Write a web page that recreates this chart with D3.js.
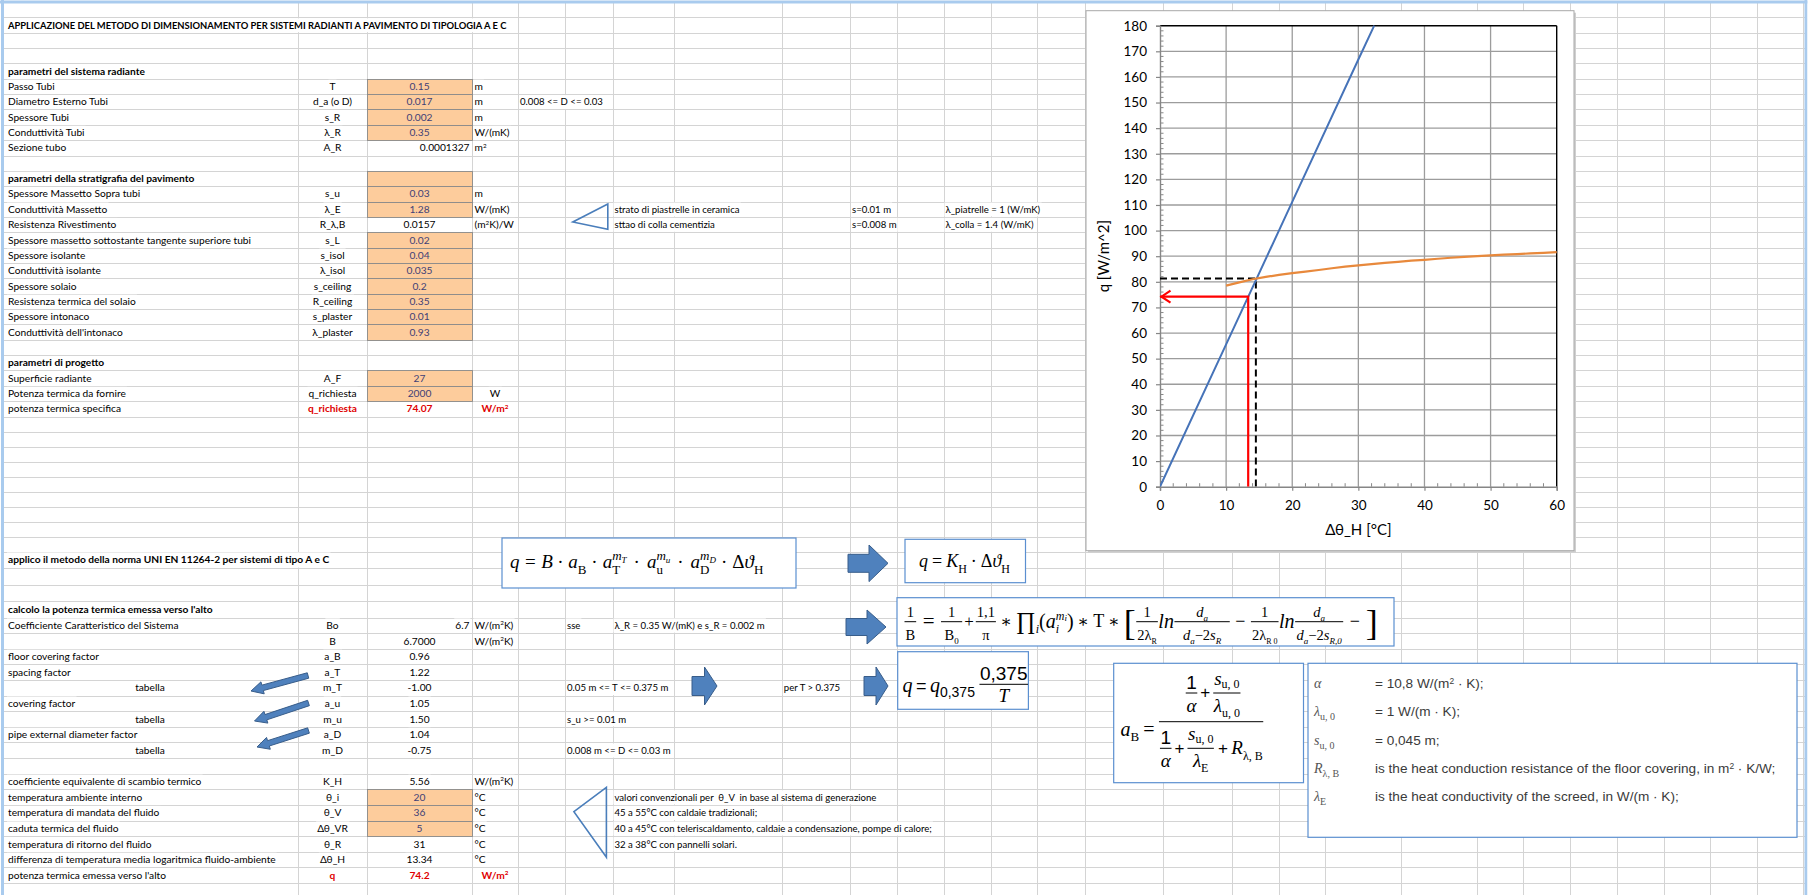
<!DOCTYPE html>
<html><head><meta charset="utf-8">
<script src="https://cdn.jsdelivr.net/npm/d3@7/dist/d3.min.js"></script>
<style>html,body{margin:0;padding:0;background:#fff;overflow:hidden}</style>
</head><body>
<svg id="sheet" width="1814" height="895"></svg>
<script>
// ================= DATA =================
const xTickLabels = [0, 10, 20, 30, 40, 50, 60];
const yTickLabels = [0, 10, 20, 30, 40, 50, 60, 70, 80, 90, 100, 110, 120, 130, 140, 150, 160, 170, 180];
const xTitle = "Δθ_H [°C]";
const yTitle = "q [W/m^2]";
// blue line: q = K_H * Δθ_H
const blueDeltaTheta = [0, 10, 20, 30, 32.4];
const blueQ = [0, 55.6, 111.2, 166.8, 180];
// orange curve
const orangeDeltaTheta = [10, 12, 14, 16, 18, 20, 22, 24, 26, 28, 30, 32, 34, 36, 38, 40, 42, 44, 46, 48, 50, 52, 54, 56, 58, 60];
const orangeQ = [78.5, 79.8, 81.0, 81.9, 82.7, 83.4, 84.0, 84.6, 85.3, 85.9, 86.4, 86.9, 87.4, 87.8, 88.3, 88.6, 89.0, 89.4, 89.7, 90.0, 90.3, 90.6, 90.8, 91.1, 91.3, 91.6];
const operatingDeltaTheta = [0, 14.5, 14.5];
const operatingQ = [81.3, 81.3, 0];
const requiredDeltaTheta = [13.34, 13.34, 0];
const requiredQ = [0, 74.2, 74.2];

// spreadsheet content: [row, text]
const sheetHeadings = [
  [1, "APPLICAZIONE DEL METODO DI DIMENSIONAMENTO PER SISTEMI RADIANTI A PAVIMENTO DI TIPOLOGIA A E C"],
  [4, "parametri del sistema radiante"],
  [11, "parametri della stratigrafia del pavimento"],
  [23, "parametri di progetto"],
  [36, "applico il metodo della norma UNI EN 11264-2 per sistemi di tipo A e C"],
  [39, "calcolo la potenza termica emessa verso l'alto"]
];
// [row, label, symbol, value, unit, kind]  kind: in=input cell, c=centred, r=right, red=result
const sheetRows = [
  [5, "Passo Tubi", "T", "0.15", "m", "in"],
  [6, "Diametro Esterno Tubi", "d_a (o D)", "0.017", "m", "in"],
  [7, "Spessore Tubi", "s_R", "0.002", "m", "in"],
  [8, "Conduttività Tubi", "λ_R", "0.35", "W/(mK)", "in"],
  [9, "Sezione tubo", "A_R", "0.0001327", "m^2", "r"],
  [11, "", "", "", "", "in"],
  [12, "Spessore Massetto Sopra tubi", "s_u", "0.03", "m", "in"],
  [13, "Conduttività Massetto", "λ_E", "1.28", "W/(mK)", "in"],
  [14, "Resistenza Rivestimento", "R_λ,B", "0.0157", "(m^2K)/W", "c"],
  [15, "Spessore massetto sottostante tangente superiore tubi", "s_L", "0.02", "", "in"],
  [16, "Spessore isolante", "s_isol", "0.04", "", "in"],
  [17, "Conduttività isolante", "λ_isol", "0.035", "", "in"],
  [18, "Spessore solaio", "s_ceiling", "0.2", "", "in"],
  [19, "Resistenza termica del solaio", "R_ceiling", "0.35", "", "in"],
  [20, "Spessore intonaco", "s_plaster", "0.01", "", "in"],
  [21, "Conduttività dell'intonaco", "λ_plaster", "0.93", "", "in"],
  [24, "Superficie radiante", "A_F", "27", "", "in"],
  [25, "Potenza termica da fornire", "q_richiesta", "2000", "W", "in"],
  [26, "potenza termica specifica", "q_richiesta", "74.07", "W/m^2", "red"],
  [40, "Coefficiente Caratteristico del Sistema", "Bo", "6.7", "W/(m^2K)", "r"],
  [41, "", "B", "6.7000", "W/(m^2K)", "c"],
  [42, "floor covering factor", "a_B", "0.96", "", "c"],
  [43, "spacing factor", "a_T", "1.22", "", "c"],
  [44, "tabella", "m_T", "-1.00", "", "c"],
  [45, "covering factor", "a_u", "1.05", "", "c"],
  [46, "tabella", "m_u", "1.50", "", "c"],
  [47, "pipe external diameter factor", "a_D", "1.04", "", "c"],
  [48, "tabella", "m_D", "-0.75", "", "c"],
  [50, "coefficiente equivalente di scambio termico", "K_H", "5.56", "W/(m^2K)", "c"],
  [51, "temperatura ambiente interno", "θ_i", "20", "°C", "in"],
  [52, "temperatura di mandata del fluido", "θ_V", "36", "°C", "in"],
  [53, "caduta termica del fluido", "Δθ_VR", "5", "°C", "in"],
  [54, "temperatura di ritorno del fluido", "θ_R", "31", "°C", "c"],
  [55, "differenza di temperatura media logaritmica fluido-ambiente", "Δθ_H", "13.34", "°C", "c"],
  [56, "potenza termica emessa verso l'alto", "q", "74.2", "W/m^2", "red"]
];
const centredUnitRows = [25, 26, 56];
// [row, column index, text]
const sheetNotes = [
  [6, 4, "0.008 <= D <= 0.03"],
  [13, 6, "strato di piastrelle in ceramica"], [13, 9, "s=0.01 m"], [13, 11, "λ_piatrelle = 1 (W/mK)"],
  [14, 6, "sttao di colla cementizia"], [14, 9, "s=0.008 m"], [14, 11, "λ_colla = 1.4 (W/mK)"],
  [40, 5, "sse"], [40, 6, "λ_R = 0.35 W/(mK) e s_R = 0.002 m"],
  [44, 5, "0.05 m <= T <= 0.375 m"], [44, 8, "per T > 0.375"],
  [46, 5, "s_u >= 0.01 m"],
  [48, 5, "0.008 m <= D <= 0.03 m"],
  [51, 6, "valori convenzionali per  θ_V  in base al sistema di generazione"],
  [52, 6, "45 a 55°C con caldaie tradizionali;"],
  [53, 6, "40 a 45°C con teleriscaldamento, caldaie a condensazione, pompe di calore;"],
  [54, 6, "32 a 38°C con pannelli solari."]
];
const legendSymbols = [["α", ""], ["λ", "u, 0"], ["s", "u, 0"], ["R", "λ, B"], ["λ", "E"]];
const legendTexts = ["= 10,8 W/(m^2 · K);", "= 1 W/(m · K);", "= 0,045 m;",
  "is the heat conduction resistance of the floor covering, in m^2 · K/W;",
  "is the heat conductivity of the screed, in W/(m · K);"];

// ================= LAYOUT =================
const W = 1814, H = 895;
const SANS = "Lato, 'Open Sans', sans-serif";
const SERIF = "'Liberation Serif', 'DejaVu Serif', serif";
const ARIAL = "'Liberation Sans', Arial, sans-serif";
const colX = [2, 298, 367, 472, 518, 565, 612.5, 674.3, 781.8, 850, 897, 943.5, 990.6, 1037.4, 1085,
  1162.6, 1232, 1278.5, 1325, 1400.8, 1476.8, 1523.3, 1570, 1616.7, 1663.5, 1710, 1757, 1803.4];
const rowLine = d3.scaleLinear().domain([0, 27, 36, 40, 58]).range([2, 416.5, 551.5, 617.5, 898.6]);
const rowMid = k => (rowLine(k) + rowLine(k + 1)) / 2;
const px = v => Math.round(v) + 0.5;

const svg = d3.select('#sheet');
svg.append('rect').attr('width', W).attr('height', H).attr('fill', '#fff');
const gridG = svg.append('g'), maskG = svg.append('g'), cellG = svg.append('g'),
  textG = svg.append('g'), shapeG = svg.append('g'), chartG = svg.append('g'), frameG = svg.append('g');
const meas = svg.append('g').attr('visibility', 'hidden');

// grid
colX.forEach(c => gridG.append('line').attr('x1', px(c)).attr('x2', px(c)).attr('y1', 2).attr('y2', H)
  .attr('stroke', '#d4d4d4'));
d3.range(0, 59).forEach(k => gridG.append('line').attr('x1', 2).attr('x2', 1806)
  .attr('y1', px(rowLine(k))).attr('y2', px(rowLine(k))).attr('stroke', '#d4d4d4'));

function rich(t, str) {
  str.split('^2').forEach((p, i) => {
    if (i > 0) {
      t.append('tspan').attr('font-size', '0.62em').attr('dy', -3.6).text('2');
      if (p) t.append('tspan').attr('dy', 3.6).text(p);
    } else if (p) t.append('tspan').text(p);
  });
}
function put(str, x, k, o = {}) {
  const t = textG.append('text').attr('x', x).attr('y', rowMid(k) + 3.6)
    .attr('text-anchor', o.anchor || 'start').attr('font-family', o.font || SANS)
    .attr('font-size', o.size || 10.2).attr('font-weight', o.bold ? 'bold' : 'normal')
    .attr('fill', o.color || '#000').style('white-space', 'pre');
  rich(t, str);
  const bb = t.node().getBBox();
  maskG.append('rect').attr('x', bb.x - 1).attr('width', bb.width + 2)
    .attr('y', rowLine(k) + 1).attr('height', rowLine(k + 1) - rowLine(k) - 1.5).attr('fill', '#fff');
  return t;
}

sheetHeadings.forEach(([k, s]) => put(s, 8, k, { bold: true, size: k === 1 ? 9.4 : 10.2 }));
const RED = '#e00000', INK = '#3f3f76';
sheetRows.forEach(([k, label, sym, val, unit, kind]) => {
  if (kind === 'in') cellG.append('rect').attr('x', px(colX[2])).attr('y', px(rowLine(k)))
    .attr('width', Math.round(colX[3]) - Math.round(colX[2])).attr('height', Math.round(rowLine(k + 1)) - Math.round(rowLine(k)))
    .attr('fill', '#fdcc9c').attr('stroke', '#8a8a8a').attr('stroke-width', 0.9);
  const red = kind === 'red';
  if (label) {
    if (label === 'tabella') put(label, (colX[0] + colX[1]) / 2, k, { anchor: 'middle' });
    else put(label, 8, k);
  }
  if (sym) put(sym, (colX[1] + colX[2]) / 2, k, { anchor: 'middle', bold: red, color: red ? RED : '#000' });
  if (val) {
    if (kind === 'r') put(val, colX[3] - 2.5, k, { anchor: 'end' });
    else put(val, (colX[2] + colX[3]) / 2, k, { anchor: 'middle', bold: red, color: red ? RED : (kind === 'in' ? INK : '#000') });
  }
  if (unit) {
    if (centredUnitRows.includes(k)) put(unit, (colX[3] + colX[4]) / 2, k, { anchor: 'middle', bold: red, color: red ? RED : '#000' });
    else put(unit, colX[3] + 2.5, k);
  }
});
sheetNotes.forEach(([k, c, s]) => put(s, colX[c] + 2, k, { size: 9.6 }));

// callout triangles
const tri = (pts) => shapeG.append('path').attr('d', 'M' + pts.map(p => p.join(',')).join('L') + 'Z')
  .attr('fill', 'none').attr('stroke', '#4a7ebb').attr('stroke-width', 1.6);
tri([[607.8, 204], [572.8, 222], [607.8, 229.3]]);
tri([[606.4, 787.3], [573.9, 811.7], [606.4, 857.3]]);

// block arrows
function blockArrow(x1, y1, x2, y2, hw, hh, hl) {
  const dx = x2 - x1, dy = y2 - y1, L = Math.hypot(dx, dy), ux = dx / L, uy = dy / L, nx = -uy, ny = ux;
  const bx = x2 - ux * hl, by = y2 - uy * hl;
  const pts = [[x1 + nx * hw, y1 + ny * hw], [bx + nx * hw, by + ny * hw], [bx + nx * hh, by + ny * hh], [x2, y2],
    [bx - nx * hh, by - ny * hh], [bx - nx * hw, by - ny * hw], [x1 - nx * hw, y1 - ny * hw]];
  shapeG.append('path').attr('d', 'M' + pts.map(p => p.join(',')).join('L') + 'Z')
    .attr('fill', '#4f81bd').attr('stroke', '#385d8a').attr('stroke-width', 1);
}
[[848, 563.3, 888, 563.3, 9, 18.3, 19], [846, 627, 886, 627, 8.5, 17, 19],
 [692, 686, 717, 686, 9.5, 19, 12.5], [864, 686, 888, 686, 9.5, 19, 12]].forEach(a => blockArrow(...a));
[[308, 675.5, 251, 691], [308.5, 703, 254.5, 721], [308.5, 730.5, 257, 747]]
  .forEach(a => blockArrow(a[0], a[1], a[2], a[3], 2.8, 6.2, 12));

// ---------- formula boxes ----------
function box(x0, y0, x1, y1) {
  shapeG.append('rect').attr('x', x0).attr('y', y0).attr('width', x1 - x0).attr('height', y1 - y0)
    .attr('fill', '#fff').attr('stroke', '#5b8fd0').attr('stroke-width', 1.2);
}
const I = { i: true };
const tk = (s, size, o) => Object.assign({ t: s, s: size }, o || {});
const sub = (s, size, base, o) => Object.assign({ t: s, s: size, b: base * 0.32 + size * 0.45 }, o || {});
const sup = (s, size, base, o) => Object.assign({ t: s, s: size, b: base * 0.32 - base * 0.42 }, o || {});
const frac = (num, den, n, d, pad) => ({ frac: [num, den], n, d, pad: pad === undefined ? 2 : pad });
const gap = w => ({ sp: w });
function tokW(it) {
  if (it.sp !== undefined) return it.sp;
  if (it.frac) return Math.max(rowW(it.frac[0]), rowW(it.frac[1])) + 2 * it.pad;
  if (it.stack) return d3.max(it.stack, rowW);
  const n = meas.append('text').attr('font-family', it.f || SERIF).attr('font-size', it.s)
    .attr('font-style', it.i ? 'italic' : 'normal').text(it.t).node();
  const w = n.getComputedTextLength(); n.remove();
  return w + (it.g || 0);
}
function rowW(row) { return d3.sum(row, tokW); }
function drawRow(g, row, x, axis, color) { row.forEach(it => { x += drawTok(g, it, x, axis, color); }); return x; }
function drawTok(g, it, x, axis, color) {
  const w = tokW(it);
  if (it.frac) {
    const nw = rowW(it.frac[0]), dw = rowW(it.frac[1]);
    drawRow(g, it.frac[0], x + (w - nw) / 2, axis - it.n, color);
    drawRow(g, it.frac[1], x + (w - dw) / 2, axis + it.d, color);
    g.append('line').attr('x1', x + 0.5).attr('x2', x + w - 0.5).attr('y1', axis).attr('y2', axis)
      .attr('stroke', color).attr('stroke-width', 1);
  } else if (it.stack) {
    it.stack.forEach(r => drawRow(g, r, x, axis, color));
  } else if (it.sp === undefined) {
    g.append('text').attr('x', x + (it.g || 0) / 2).attr('y', axis + (it.b !== undefined ? it.b : it.s * 0.32))
      .attr('font-family', it.f || SERIF).attr('font-size', it.s).attr('font-style', it.i ? 'italic' : 'normal')
      .attr('fill', color).text(it.t);
  }
  return w;
}

// Box A
box(502, 538, 796, 588);
const mStack = (lbl) => ({ stack: [[sup('m', 13, 19, I), tk(lbl, 9, { b: 1.5, i: true })], [sub(lbl, 13, 19)]] });
drawRow(shapeG, [tk('q', 19, I), tk('=', 19, { g: 11 }), tk('B', 19, I), tk('·', 19, { g: 9 }), tk('a', 19, I), sub('B', 13, 19),
  tk('·', 19, { g: 10 }), tk('a', 19, I), mStack('T'), tk('·', 19, { g: 14 }), tk('a', 19, I), mStack('u'),
  tk('·', 19, { g: 14 }), tk('a', 19, I), mStack('D'), tk('·', 19, { g: 10 }), tk('Δ', 19), tk('ϑ', 19, I), sub('H', 13, 19)],
  510, 561.8, '#000');

// Box B
box(905, 539.3, 1025.5, 582.7);
drawRow(shapeG, [tk('q', 18, I), tk('=', 18, { g: 8 }), tk('K', 18, I), sub('H', 12, 18), tk('·', 18, { g: 8 }), tk('Δ', 18),
  tk('ϑ', 18, I), sub('H', 12, 18)], 919, 561.5, '#000');

// Box C
box(897, 597.7, 1394, 646);
const fN = 14.5;
const fr = (num, den, pad) => frac(num, den, 9.7, 14, pad === undefined ? 1.5 : pad);
const daRow = (sr) => [tk('d', fN, I), sub('a', 9, fN, I), tk('−2', fN), tk('s', fN, I), sub(sr, 9, fN, I)];
drawRow(shapeG, [
  fr([tk('1', fN)], [tk('B', fN)]),
  tk('=', 21, { g: 12 }),
  fr([tk('1', fN)], [tk('B', fN), sub('0', 9, fN)], 4),
  tk('+', 17, { g: 3 }),
  fr([tk('1,1', fN)], [tk('π', fN)]),
  tk('∗', 17, { g: 8 }),
  tk('∏', 24), sub('i', 12, 19, I), tk('(', 20), tk('a', 20, I),
  { stack: [[sup('m', 12, 19, I), tk('i', 9, { b: -0.5, i: true })], [sub('i', 12, 19, I)]] },
  tk(')', 20), tk('∗', 17, { g: 8 }), tk('T', 18), tk('∗', 17, { g: 8 }),
  tk('[', 36, { b: 13 }),
  fr([tk('1', fN)], [tk('2λ', fN), sub('R', 8, fN)]),
  tk('ln', 20, I),
  fr([tk('d', fN, I), sub('a', 9, fN, I)], daRow('R'), 9),
  tk('−', 18, { g: 10 }),
  fr([tk('1', fN)], [tk('2λ', fN), sub('R 0', 8, fN)]),
  tk('ln', 20, I),
  fr([tk('d', fN, I), sub('a', 9, fN, I)], daRow('R,0'), 2),
  tk('−', 18, { g: 12 }),
  tk(']', 36, { b: 13 })
], 904, 621.7, '#000');

// Box D
box(897.7, 651.7, 1028.4, 709.3);
drawRow(shapeG, [tk('q', 20, { i: true, b: 7.5 }), tk('=', 18, { g: 7, f: ARIAL, b: 7.5 }), tk('q', 20, { i: true, b: 7.5 }),
  tk('0,375', 14, { f: ARIAL, b: 13 }), gap(4),
  frac([tk('0,375', 19, { f: ARIAL })], [tk('T', 19, I)], 10.5, 11.5, 1)], 902.4, 684.3, '#000');

// Box E
box(1113.7, 663.3, 1303.5, 782.7);
const aF = () => frac([tk('1', 19, { f: ARIAL })], [tk('α', 19, I)], 10.5, 12.5, 1);
const suF = (den) => frac([tk('s', 19, I), { t: 'u, 0', s: 12, b: 8.5 }], den, 14, 12.5, 1);
drawRow(shapeG, [tk('a', 20, { i: true, b: 14.3 }), tk('B', 13, { b: 19 }), tk('=', 20, { g: 8, b: 14.3 }),
  frac([gap(4), aF(), tk('+', 17, { g: 5, f: ARIAL }), suF([tk('λ', 19, I), sub('u, 0', 12, 19)])],
       [aF(), tk('+', 17, { g: 5, f: ARIAL }), suF([tk('λ', 19, I), sub('E', 12, 19)]), tk('+', 17, { g: 7, f: ARIAL }),
        tk('R', 19, I), sub('λ, B', 12, 19)], 28.7, 26.6, 1)], 1120.5, 721.7, '#000');

// Box F (legend)
box(1308, 663.3, 1797, 837.3);
const legendRowY = d3.scaleLinear().domain([0, 4]).range([683.3, 796.7]);
legendSymbols.forEach(([s, sb], i) => {
  const t = shapeG.append('text').attr('x', 1314).attr('y', legendRowY(i) + 4.5).attr('font-family', SERIF)
    .attr('font-style', 'italic').attr('font-size', 14).attr('fill', '#555').text(s);
  if (sb) t.append('tspan').attr('dy', 4).attr('font-size', 10).attr('font-style', 'normal').text(sb);
});
legendTexts.forEach((s, i) => {
  const t = shapeG.append('text').attr('x', 1375).attr('y', legendRowY(i) + 4.5).attr('font-family', ARIAL)
    .attr('font-size', 13.6).attr('fill', '#3a3a3a').style('white-space', 'pre');
  rich(t, s);
});

// ================= CHART =================
const cb = { x: 1086, y: 10.7, w: 488, h: 540 };
chartG.append('rect').attr('x', cb.x + 2).attr('y', cb.y + 2).attr('width', cb.w).attr('height', cb.h).attr('fill', '#d0d0d0');
chartG.append('rect').attr('x', cb.x).attr('y', cb.y).attr('width', cb.w).attr('height', cb.h)
  .attr('fill', '#fff').attr('stroke', '#a8a8a8').attr('stroke-width', 1);
const xS = d3.scaleLinear().domain([0, 60]).range([1160, 1556.7]);
const yS = d3.scaleLinear().domain([0, 180]).range([486.7, 25.7]);

const gridC = chartG.append('g');
gridC.selectAll('line.gx').data(xTickLabels.slice(1, -1)).join('line')
  .attr('x1', d => xS(d)).attr('x2', d => xS(d)).attr('y1', yS(0)).attr('y2', yS(180))
  .attr('stroke', '#9c9c9c').attr('stroke-width', 1.3);
gridC.selectAll('line.gy').data(yTickLabels.slice(1, -1)).join('line')
  .attr('x1', xS(0)).attr('x2', xS(60)).attr('y1', d => yS(d)).attr('y2', d => yS(d))
  .attr('stroke', '#9c9c9c').attr('stroke-width', 1.3);
// minor ticks (inside)
gridC.selectAll('line.my').data(d3.range(0, 181, 2).filter(v => v % 10)).join('line')
  .attr('x1', xS(0)).attr('x2', xS(0) + 3.5).attr('y1', d => yS(d)).attr('y2', d => yS(d)).attr('stroke', '#888').attr('stroke-width', 1);
gridC.selectAll('line.mx').data(d3.range(0, 61, 2).filter(v => v % 10)).join('line')
  .attr('x1', d => xS(d)).attr('x2', d => xS(d)).attr('y1', yS(0)).attr('y2', yS(0) - 3.5).attr('stroke', '#888').attr('stroke-width', 1);
// frame: top/right black, axes grey
chartG.append('line').attr('x1', xS(0)).attr('x2', xS(60)).attr('y1', yS(180)).attr('y2', yS(180)).attr('stroke', '#000').attr('stroke-width', 1.4);
chartG.append('line').attr('x1', xS(60)).attr('x2', xS(60)).attr('y1', yS(0)).attr('y2', yS(180)).attr('stroke', '#000').attr('stroke-width', 1.4);

const ya = chartG.append('g').attr('transform', `translate(${xS(0)},0)`)
  .call(d3.axisLeft(yS).tickValues(yTickLabels).tickSize(4).tickPadding(9));
const xa = chartG.append('g').attr('transform', `translate(0,${yS(0)})`)
  .call(d3.axisBottom(xS).tickValues(xTickLabels).tickSize(4).tickPadding(10));
[ya, xa].forEach(a => {
  a.select('.domain').attr('stroke', '#868686').attr('stroke-width', 1.4);
  a.selectAll('.tick line').attr('stroke', '#868686').attr('stroke-width', 1.2);
  a.selectAll('.tick text').attr('font-family', SANS).attr('font-size', 13.5).attr('fill', '#000');
});
chartG.append('text').attr('transform', `translate(1109,${(yS(0) + yS(180)) / 2}) rotate(-90)`)
  .attr('text-anchor', 'middle').attr('font-family', SANS).attr('font-size', 15).text(yTitle);
chartG.append('text').attr('x', (xS(0) + xS(60)) / 2).attr('y', 535).attr('text-anchor', 'middle')
  .attr('font-family', SANS).attr('font-size', 15).text(xTitle);

chartG.append('clipPath').attr('id', 'plotclip').append('rect')
  .attr('x', xS(0)).attr('y', yS(180) - 1).attr('width', xS(60) - xS(0) + 1).attr('height', yS(0) - yS(180) + 1);
const line = d3.line().x(d => xS(d[0])).y(d => yS(d[1]));
const zip = (a, b) => a.map((v, i) => [v, b[i]]);
const plotG = chartG.append('g').attr('clip-path', 'url(#plotclip)');
plotG.append('path').datum(zip(operatingDeltaTheta, operatingQ)).attr('d', line).attr('fill', 'none')
  .attr('stroke', '#000').attr('stroke-width', 2).attr('stroke-dasharray', '7,4');
plotG.append('path').datum(zip(blueDeltaTheta, blueQ)).attr('d', line).attr('fill', 'none')
  .attr('stroke', '#4673b8').attr('stroke-width', 2);
plotG.append('path').datum(zip(orangeDeltaTheta, orangeQ)).attr('d', line).attr('fill', 'none')
  .attr('stroke', '#e8893c').attr('stroke-width', 2.2);
plotG.append('path').datum(zip(requiredDeltaTheta, requiredQ)).attr('d', line).attr('fill', 'none')
  .attr('stroke', '#ff0000').attr('stroke-width', 2.2);
const tip = [xS(requiredDeltaTheta[2]) + 1.5, yS(requiredQ[2])];
chartG.append('path').attr('d', `M${tip[0] + 9},${tip[1] - 6}L${tip[0]},${tip[1]}L${tip[0] + 9},${tip[1] + 6}`)
  .attr('fill', 'none').attr('stroke', '#ff0000').attr('stroke-width', 2.2);

// window frame
frameG.append('line').attr('x1', 0).attr('x2', 1808).attr('y1', 2).attr('y2', 2).attr('stroke', '#a9cbee').attr('stroke-width', 3);
frameG.append('line').attr('x1', 2.5).attr('x2', 2.5).attr('y1', 0).attr('y2', H).attr('stroke', '#a9cbee').attr('stroke-width', 3);
frameG.append('line').attr('x1', 1806).attr('x2', 1806).attr('y1', 0).attr('y2', H).attr('stroke', '#a9cbee').attr('stroke-width', 3);
frameG.append('rect').attr('x', 1807.5).attr('y', 0).attr('width', 10).attr('height', H).attr('fill', '#fff');
</script>
</body></html>
